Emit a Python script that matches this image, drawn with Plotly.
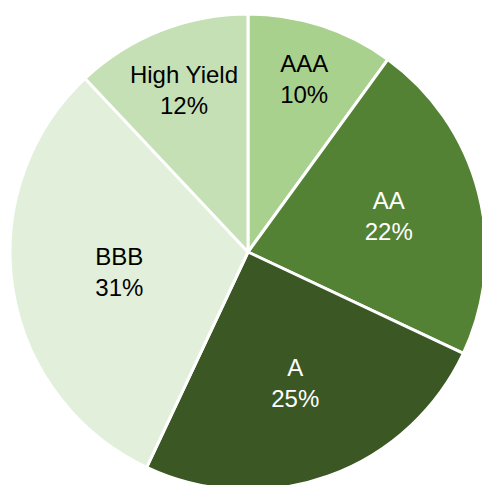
import plotly.graph_objects as go

labels = ["AAA", "AA", "A", "BBB", "High Yield"]
values = [10, 22, 25, 31, 12]
colors = ["#a9d18e", "#548235", "#3a5724", "#e2efda", "#c5e0b4"]
text_colors = ["#000000", "#ffffff", "#ffffff", "#000000", "#000000"]

W, H = 492, 494
cx, cy, r = 248, 252, 238  # pie centre / radius in page pixels

fig = go.Figure(go.Pie(
    labels=labels,
    values=values,
    sort=False,
    direction="clockwise",
    rotation=0,
    marker=dict(colors=colors, line=dict(color="#ffffff", width=3)),
    textinfo="label+percent",
    texttemplate="%{label}<br>%{percent:.0%}",
    textposition="inside",
    insidetextorientation="horizontal",
    insidetextfont=dict(family="Liberation Sans, Arial", size=24, color=text_colors),
    hoverinfo="skip",
    showlegend=False,
    domain=dict(x=[(cx - r) / W, (cx + r) / W],
                y=[(H - cy - r) / H, (H - cy + r) / H]),
))
fig.update_layout(
    width=W, height=H,
    margin=dict(l=0, r=0, t=0, b=0),
    paper_bgcolor="#ffffff",
    plot_bgcolor="#ffffff",
)
fig.write_html(
    "out.html",
    config={"displayModeBar": False, "staticPlot": True},
    post_script="document.body.style.margin='0';document.body.style.overflow='hidden';"
    "document.documentElement.style.overflow='hidden';",
)
